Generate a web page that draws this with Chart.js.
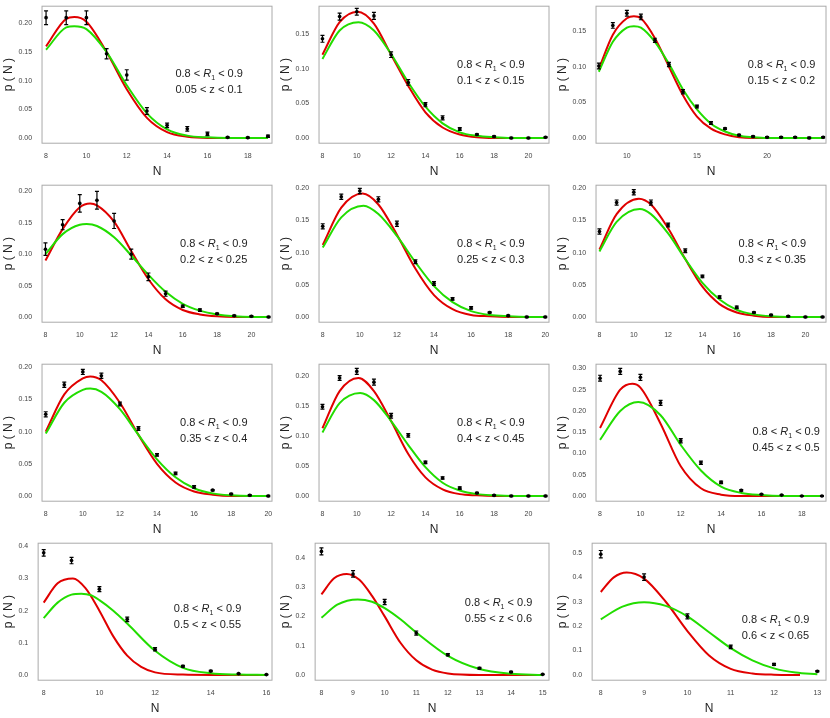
<!DOCTYPE html>
<html><head><meta charset="utf-8">
<script src="https://cdn.jsdelivr.net/npm/chart.js@4"></script>
<style>
body{margin:0;background:#fff;font-family:"Liberation Sans",Arial,sans-serif}
.p{position:absolute;width:277px;height:179px}
</style></head><body>
<script>
// observed p(N), starting at N = 8
const obs1 = [.21,.21,.21,.147,.11,.047,.022,.016,.007,.001,.0005,.003];
const err1 = [.012,.012,.012,.009,.009,.006,.004,.004,.003,.001,.001,.002];
const obs2 = [.143,.175,.182,.176,.12,.08,.048,.029,.013,.005,.002,0,0,.001];
const err2 = [.005,.005,.005,.005,.004,.004,.003,.003,.002,.001,.001,.001,.001,.001];
const obs3 = [.101,.158,.175,.17,.137,.103,.065,.044,.021,.013,.004,.002,.001,.001,.001,0,.001];
const err3 = [.004,.004,.004,.004,.003,.003,.003,.002,.002,.001,.001,.001,.001,.001,.001,.001,.001];
const obs4 = [.108,.147,.181,.186,.153,.1,.064,.037,.017,.011,.005,.002,.001,0];
const err4 = [.01,.008,.014,.014,.012,.008,.006,.004,.002,.002,.001,.001,.001,.001];
const obs5 = [.141,.187,.196,.183,.145,.086,.052,.028,.014,.007,.002,0,0];
const err5 = [.004,.004,.004,.004,.004,.003,.003,.002,.002,.001,.001,.001,.001];
const obs6 = [.133,.178,.194,.178,.143,.103,.063,.031,.015,.007,.003,.001,0,0];
const err6 = [.004,.004,.004,.004,.003,.003,.002,.002,.002,.001,.001,.001,.001,.001];
const obs7 = [.127,.173,.193,.187,.143,.105,.064,.035,.014,.009,.003,.001,0];
const err7 = [.004,.004,.004,.004,.003,.003,.002,.002,.002,.001,.001,.001,.001];
const obs8 = [.149,.197,.208,.19,.134,.101,.056,.03,.013,.005,.001,0,0,0];
const err8 = [.004,.004,.005,.005,.004,.003,.002,.002,.002,.001,.001,.001,.001,.001];
const obs9 = [.277,.293,.279,.219,.13,.078,.032,.013,.004,.002,0,0];
const err9 = [.007,.007,.007,.006,.005,.004,.003,.002,.001,.001,.001,.001];
const obs10 = [.38,.356,.267,.173,.08,.027,.012,.004,.001];
const err10 = [.01,.01,.008,.007,.005,.003,.002,.001,.001];
const obs11 = [.422,.345,.249,.143,.069,.023,.01,.002];
const err11 = [.012,.011,.009,.007,.004,.003,.002,.001];
const obs12 = [.495,.401,.24,.115,.043,.015];
const err12 = [.015,.013,.01,.007,.004,.003];

// model curves [N, p]
const red1 = [[8,.16],[9,.208],[9.4,.211],[10,.203],[11,.15],[12,.085],[13,.035],[14,.01],[15,.002],[16,0],[19,0]];
const green1 = [[8,.154],[9,.193],[9.4,.195],[10,.19],[11,.15],[12,.092],[13,.043],[14,.015],[15,.004],[16,.001],[17,0],[19,0]];
const red2 = [[8,.12],[9,.167],[10.05,.182],[11,.165],[12,.12],[13,.075],[14,.037],[15,.015],[16,.005],[17,.001],[18,0],[21,0]];
const green2 = [[8,.114],[9,.155],[10.1,.167],[11,.155],[12,.121],[13,.08],[14,.045],[15,.021],[16,.008],[17,.003],[18,.001],[19,0],[21,0]];
const red3 = [[8,.097],[9,.145],[10,.168],[10.5,.171],[11,.168],[12,.14],[13,.1],[14,.06],[15,.03],[16,.013],[17,.005],[18,.001],[19,0],[24,0]];
const green3 = [[8,.093],[9,.135],[10,.155],[10.5,.157],[11,.155],[12,.135],[13,.104],[14,.068],[15,.04],[16,.02],[17,.009],[18,.003],[19,.001],[20,0],[24,0]];
const red4 = [[8,.09],[9,.14],[10,.175],[10.6,.181],[11,.178],[12,.152],[13,.105],[14,.06],[15,.028],[16,.011],[17,.004],[18,.001],[19,0],[21,0]];
const green4 = [[8,.1],[9,.132],[10,.147],[10.4,.148],[11,.145],[12,.127],[13,.098],[14,.067],[15,.04],[16,.021],[17,.01],[18,.004],[19,.001],[20,0],[21,0]];
const red5 = [[8,.112],[9,.17],[10.15,.192],[11,.175],[12,.128],[13,.075],[14,.034],[15,.012],[16,.003],[17,.001],[18,0],[20,0]];
const green5 = [[8,.108],[9,.155],[10.2,.173],[11,.16],[12,.126],[13,.085],[14,.048],[15,.023],[16,.009],[17,.003],[18,.001],[19,0],[20,0]];
const red6 = [[8,.105],[9,.16],[10.3,.184],[11,.175],[12,.138],[13,.09],[14,.047],[15,.02],[16,.007],[17,.002],[18,0],[21,0]];
const green6 = [[8,.102],[9,.148],[10.35,.168],[11,.16],[12,.13],[13,.09],[14,.053],[15,.027],[16,.011],[17,.004],[18,.001],[19,0],[21,0]];
const red7 = [[8,.1],[9,.158],[10,.183],[10.4,.186],[11,.18],[12,.145],[13,.095],[14,.05],[15,.021],[16,.007],[17,.002],[18,0],[20,0]];
const green7 = [[8,.097],[9,.145],[10,.165],[10.4,.167],[11,.162],[12,.135],[13,.095],[14,.057],[15,.029],[16,.012],[17,.004],[18,.001],[19,0],[20,0]];
const red8 = [[8,.113],[9,.175],[10.1,.197],[11,.175],[12,.125],[13,.07],[14,.031],[15,.011],[16,.003],[17,.001],[18,0],[21,0]];
const green8 = [[8,.106],[9,.155],[10.2,.172],[11,.16],[12,.125],[13,.085],[14,.048],[15,.022],[16,.009],[17,.003],[18,.001],[19,0],[21,0]];
const red9 = [[8,.16],[9,.25],[9.6,.264],[10,.255],[11,.17],[12,.07],[13,.018],[14,.003],[15,0],[19,0]];
const green9 = [[8,.132],[9,.2],[9.9,.221],[11,.19],[12,.12],[13,.06],[14,.022],[15,.007],[16,.002],[17,0],[19,0]];
const red10 = [[8,.225],[8.5,.285],[9.05,.3],[9.5,.27],[10,.2],[10.5,.12],[11,.06],[11.5,.025],[12,.008],[13,.001],[14,0],[16,0]];
const green10 = [[8,.177],[8.5,.225],[9,.25],[9.35,.253],[9.7,.248],[10,.233],[10.5,.2],[11,.16],[12,.075],[13,.022],[14,.005],[15,.001],[16,0]];
const red11 = [[8,.275],[8.4,.33],[8.8,.345],[9.2,.325],[9.6,.27],[10,.2],[10.5,.11],[11,.05],[11.5,.018],[12,.005],[13,0],[15,0]];
const green11 = [[8,.195],[8.5,.24],[9.15,.258],[9.6,.25],[10,.228],[10.5,.19],[11,.145],[12,.065],[13,.02],[14,.004],[15,0]];
const red12 = [[8,.34],[8.3,.4],[8.6,.42],[9,.395],[9.5,.3],[10,.18],[10.5,.08],[11,.025],[11.5,.006],[12,.001],[12.6,0]];
const green12 = [[8,.228],[8.5,.28],[9,.298],[9.5,.283],[10,.24],[10.5,.175],[11,.11],[11.5,.06],[12,.027],[12.5,.01],[13,.003]];

const zbins = ['0.05 < z < 0.1','0.1 < z < 0.15','0.15 < z < 0.2','0.2 < z < 0.25','0.25 < z < 0.3','0.3 < z < 0.35',
  '0.35 < z < 0.4','0.4 < z < 0.45','0.45 < z < 0.5','0.5 < z < 0.55','0.55 < z < 0.6','0.6 < z < 0.65'];
const xMax = [19,21,24,21,20,21,20,21,19,16,15,13];
const xStep = [2,2,5,2,2,2,2,2,2,2,1,1];
const yMax = [.23,.19,.185,.21,.205,.205,.205,.22,.31,.41,.45,.54];
const yStep = [.05,.05,.05,.05,.05,.05,.05,.05,.05,.1,.1,.1];

const obs = [obs1,obs2,obs3,obs4,obs5,obs6,obs7,obs8,obs9,obs10,obs11,obs12];
const errs = [err1,err2,err3,err4,err5,err6,err7,err8,err9,err10,err11,err12];
const reds = [red1,red2,red3,red4,red5,red6,red7,red8,red9,red10,red11,red12];
const greens = [green1,green2,green3,green4,green5,green6,green7,green8,green9,green10,green11,green12];

const framePlugin = {
    id: 'frame',
    afterDatasetsDraw(chart, args, o) {
        const { ctx, chartArea: a, scales: { x, y } } = chart;
        ctx.save();
        // error bars
        ctx.strokeStyle = '#000'; ctx.lineWidth = 1.2;
        o.err.forEach((e, i) => {
            const px = x.getPixelForValue(8 + i);
            const t = y.getPixelForValue(o.obs[i] + e), b = y.getPixelForValue(o.obs[i] - e);
            ctx.beginPath();
            ctx.moveTo(px, t); ctx.lineTo(px, b);
            ctx.moveTo(px - 2, t); ctx.lineTo(px + 2, t);
            ctx.moveTo(px - 2, b); ctx.lineTo(px + 2, b);
            ctx.stroke();
        });
        ctx.strokeStyle = '#aaa'; ctx.lineWidth = 1;
        ctx.strokeRect(a.left, a.top, a.right - a.left, a.bottom - a.top);
        ctx.fillStyle = '#222'; ctx.font = '11px "Liberation Sans"'; ctx.textAlign = 'left';
        const tx = a.left + (a.right - a.left) * o.tx, ty = a.top + (a.bottom - a.top) * o.ty;
        ctx.fillText('0.8 < ', tx, ty);
        let w = ctx.measureText('0.8 < ').width;
        ctx.font = 'italic 11px "Liberation Sans"'; ctx.fillText('R', tx + w, ty); w += ctx.measureText('R').width;
        ctx.font = '7px "Liberation Sans"'; ctx.fillText('1', tx + w, ty + 3); w += ctx.measureText('1').width;
        ctx.font = '11px "Liberation Sans"'; ctx.fillText(' < 0.9', tx + w, ty);
        ctx.fillText(o.z, tx, ty + 16);
        ctx.restore();
    }
};
const textPos = [[.58,.52],[.6,.45],[.66,.45],[.6,.45],[.6,.45],[.62,.45],[.6,.45],[.6,.45],[.68,.52],[.58,.5],[.64,.46],[.64,.58]];

for (let k = 0; k < 12; k++) {
    const div = document.createElement('div');
    div.className = 'p';
    div.style.left = (k % 3) * 277 + 'px';
    div.style.top = Math.floor(k / 3) * 179 + 'px';
    const cv = document.createElement('canvas');
    div.appendChild(cv); document.body.appendChild(div);
    const dp = yStep[k] >= .1 ? 1 : 2;
    new Chart(cv, {
        type: 'scatter',
        data: { datasets: [
            { data: obs[k].map((v, i) => ({ x: 8 + i, y: v })), backgroundColor: '#000', pointRadius: 1.8, showLine: false },
            { data: greens[k].map(p => ({ x: p[0], y: p[1] })), borderColor: '#22dd00', borderWidth: 2, showLine: true, pointRadius: 0, tension: 0.4, cubicInterpolationMode: 'monotone' },
            { data: reds[k].map(p => ({ x: p[0], y: p[1] })), borderColor: '#e00000', borderWidth: 2, showLine: true, pointRadius: 0, tension: 0.4, cubicInterpolationMode: 'monotone' }
        ] },
        options: {
            animation: false, responsive: true, maintainAspectRatio: false,
            layout: { padding: { top: 1, right: 3, bottom: 0 } },
            plugins: { legend: { display: false }, tooltip: { enabled: false },
                frame: { obs: obs[k], err: errs[k], z: zbins[k], tx: textPos[k][0], ty: textPos[k][1] } },
            scales: {
                x: { min: 7.8, max: xMax[k] + 0.2, grid: { display: false }, border: { display: false },
                    afterBuildTicks: s => { const t = []; for (let v = xStep[k] === 5 ? 10 : 8; v <= xMax[k]; v += xStep[k]) t.push({ value: v }); s.ticks = t; },
                    ticks: { font: { size: 7 }, color: '#444', maxRotation: 0, padding: 1 },
                    title: { display: true, text: 'N', font: { size: 12 }, color: '#222', padding: { top: 3, bottom: 0 } } },
                y: { min: -0.008 * yMax[k] / .2, max: yMax[k], grid: { display: false }, border: { display: false },
                    afterBuildTicks: s => { const t = []; for (let v = 0; v <= yMax[k] + 1e-9; v += yStep[k]) t.push({ value: +v.toFixed(2) }); s.ticks = t; },
                    ticks: { font: { size: 7 }, color: '#444', padding: 2, callback: v => v.toFixed(dp) },
                    title: { display: true, text: 'p ( N )', font: { size: 12 }, color: '#222', padding: 1 } }
            }
        },
        plugins: [framePlugin]
    });
}
</script>
</body></html>
